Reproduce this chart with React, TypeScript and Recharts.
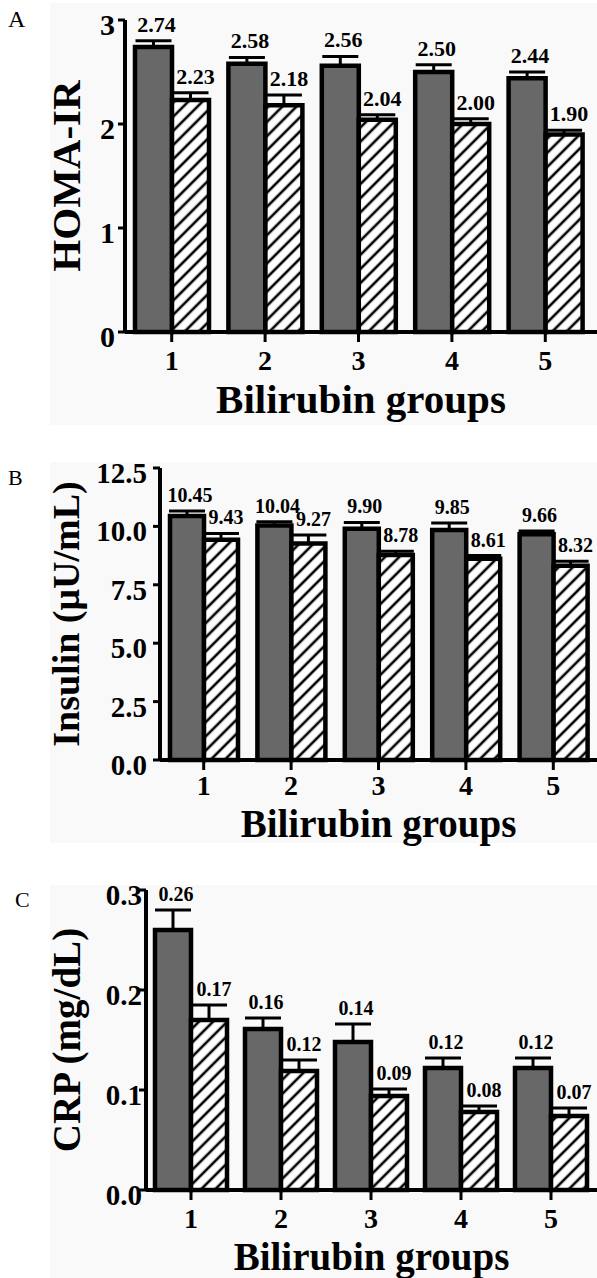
import React from 'react';
import { BarChart, Bar, XAxis, YAxis, ErrorBar, LabelList, Label } from 'recharts';

const SERIF = '"Liberation Serif", "Times New Roman", serif';

const groups = ['1', '2', '3', '4', '5'];

// A: HOMA-IR
const homaHigh = [2.74, 2.58, 2.56, 2.5, 2.44];
const homaHighErr = [0.06, 0.06, 0.09, 0.07, 0.06];
const homaHighLabels = ['2.74', '2.58', '2.56', '2.50', '2.44'];
const homaLow = [2.23, 2.18, 2.04, 2.0, 1.9];
const homaLowErr = [0.07, 0.1, 0.05, 0.05, 0.04];
const homaLowLabels = ['2.23', '2.18', '2.04', '2.00', '1.90'];
const homaTicks = [0, 1, 2, 3];

// B: Insulin
const insHigh = [10.45, 10.04, 9.9, 9.85, 9.66];
const insHighErr = [0.21, 0.16, 0.27, 0.3, 0.14];
const insHighLabels = ['10.45', '10.04', '9.90', '9.85', '9.66'];
const insLow = [9.43, 9.27, 8.78, 8.61, 8.32];
const insLowErr = [0.27, 0.36, 0.16, 0.14, 0.19];
const insLowLabels = ['9.43', '9.27', '8.78', '8.61', '8.32'];
const insTicks = [0, 2.5, 5, 7.5, 10, 12.5];

// C: CRP
const crpHigh = [0.26, 0.161, 0.148, 0.122, 0.122];
const crpHighErr = [0.02, 0.011, 0.018, 0.01, 0.01];
const crpHighLabels = ['0.26', '0.16', '0.14', '0.12', '0.12'];
const crpLow = [0.17, 0.119, 0.094, 0.078, 0.074];
const crpLowErr = [0.015, 0.011, 0.007, 0.006, 0.008];
const crpLowLabels = ['0.17', '0.12', '0.09', '0.08', '0.07'];
const crpTicks = [0, 0.1, 0.2, 0.3];

const makeLabel = (labels: string[], errs: number[], size: number, dx: number) => (props: any) => {
  const x = Number(props.x);
  const y = Number(props.y);
  const w = Number(props.width);
  const h = Number(props.height);
  const v = Number(props.value);
  const i = props.index;
  const pxPer = v ? h / v : 0;
  const top = y - errs[i] * pxPer;
  return (
    <text x={x + w / 2 + dx} y={top - 9} textAnchor="middle" fontSize={size} fontWeight="bold" fontFamily={SERIF} fill="#000">
      {labels[i]}
    </text>
  );
};

const Panel = ({ cfg }: { cfg: any }) => {
  const data = groups.map((g, i) => ({
    group: g,
    high: cfg.high[i],
    highErr: [0, cfg.highErr[i]],
    low: cfg.low[i],
    lowErr: [0, cfg.lowErr[i]],
  }));
  const hatchId = `hatch-${cfg.id}`;

  const xTick = (p: any) => (
    <text x={p.x} y={p.y} dy={cfg.xTickDy} textAnchor="middle" fontSize={28} fontWeight="bold" fontFamily={SERIF} fill="#000">
      {p.payload.value}
    </text>
  );
  const yTick = (p: any) => (
    <text x={p.x} y={p.y} dx={-cfg.yTickGap} dy={15} textAnchor="end" fontSize={cfg.yTickSize} fontWeight="bold" fontFamily={SERIF} fill="#000">
      {cfg.fmt(p.payload.value)}
    </text>
  );
  const xTitle = (p: any) => {
    const vb = p.viewBox || {};
    return (
      <text x={vb.x + vb.width / 2} y={vb.y + cfg.xTitleDy} textAnchor="middle" fontSize={cfg.xTitleSize} fontWeight="bold" fontFamily={SERIF} fill="#000">
        Bilirubin groups
      </text>
    );
  };
  const yTitle = (p: any) => {
    const vb = p.viewBox || {};
    const cy = vb.y + vb.height / 2;
    const cx = 66;
    return (
      <text x={cx} y={cy} transform={`rotate(-90 ${cx} ${cy})`} textAnchor="middle" dominantBaseline="central" fontSize={cfg.yTitleSize} fontWeight="bold" fontFamily={SERIF} fill="#000">
        {cfg.yTitle}
      </text>
    );
  };

  return (
    <div style={{ position: 'absolute', left: 0, top: cfg.top, width: 597, height: cfg.height }}>
      <div style={{ position: 'absolute', left: 50, right: 0, top: cfg.bgTop, bottom: cfg.bgBottom, background: '#f9f9f9' }} />
      <BarChart
        width={597}
        height={cfg.height}
        data={data}
        margin={{ top: cfg.marginTop, right: 0, bottom: 0, left: 0 }}
        barGap={0}
        barSize={cfg.barSize}
      >
        <defs>
          <pattern id={hatchId} patternUnits="userSpaceOnUse" width="10" height="10" patternTransform="rotate(45)">
            <rect width="10" height="10" fill="#fff" />
            <line x1="5" y1="0" x2="5" y2="10" stroke="#000" strokeWidth="2.6" />
          </pattern>
        </defs>
        <XAxis
          dataKey="group"
          height={cfg.xHeight}
          interval={0}
          padding={{ left: 0, right: cfg.padRight }}
          axisLine={{ stroke: '#000', strokeWidth: 4 }}
          tickLine={{ stroke: '#000', strokeWidth: 3 }}
          tickSize={10}
          tickMargin={0}
          tick={xTick}
        >
          <Label content={xTitle} />
        </XAxis>
        <YAxis
          width={cfg.yWidth}
          domain={[0, cfg.ticks[cfg.ticks.length - 1]]}
          ticks={cfg.ticks}
          interval={0}
          axisLine={{ stroke: '#000', strokeWidth: 4 }}
          tickLine={{ stroke: '#000', strokeWidth: 3 }}
          tickSize={7}
          tickMargin={0}
          tick={yTick}
        >
          <Label content={yTitle} />
        </YAxis>
        <Bar dataKey="high" fill="#686868" stroke="#000" strokeWidth={4.5} isAnimationActive={false}>
          <ErrorBar dataKey="highErr" direction="y" width={18} stroke="#000" strokeWidth={3} />
          <LabelList dataKey="high" content={makeLabel(cfg.highLabels, cfg.highErr, cfg.valSize, 3)} />
        </Bar>
        <Bar dataKey="low" fill={`url(#${hatchId})`} stroke="#000" strokeWidth={4.5} isAnimationActive={false}>
          <ErrorBar dataKey="lowErr" direction="y" width={18} stroke="#000" strokeWidth={3} />
          <LabelList dataKey="low" content={makeLabel(cfg.lowLabels, cfg.lowErr, cfg.valSize, 5)} />
        </Bar>
      </BarChart>
    </div>
  );
};

const panelA = {
  id: 'a', top: 0, height: 425, bgTop: 3, bgBottom: 0, marginTop: 20, xHeight: 93, yWidth: 125, padRight: 5,
  barSize: 37, ticks: homaTicks, fmt: (v: number) => String(v), yTickSize: 30, yTickGap: 3,
  xTickDy: 28, xTitleDy: 81, xTitleSize: 41, yTitle: 'HOMA-IR', yTitleSize: 41, valSize: 22,
  high: homaHigh, highErr: homaHighErr, highLabels: homaHighLabels,
  low: homaLow, lowErr: homaLowErr, lowLabels: homaLowLabels,
};

const panelB = {
  id: 'b', top: 440, height: 420, bgTop: 22, bgBottom: 17, marginTop: 28, xHeight: 100, yWidth: 160, padRight: 0,
  barSize: 34, ticks: insTicks, fmt: (v: number) => v.toFixed(1), yTickSize: 29, yTickGap: 6,
  xTickDy: 25, xTitleDy: 77, xTitleSize: 39, yTitle: 'Insulin (μU/mL)', yTitleSize: 38, valSize: 20,
  high: insHigh, highErr: insHighErr, highLabels: insHighLabels,
  low: insLow, lowErr: insLowErr, lowLabels: insLowLabels,
};

const panelC = {
  id: 'c', top: 860, height: 418, bgTop: 25, bgBottom: 0, marginTop: 30, xHeight: 88, yWidth: 146, padRight: 1,
  barSize: 36, ticks: crpTicks, fmt: (v: number) => v.toFixed(1), yTickSize: 29, yTickGap: -3,
  xTickDy: 28, xTitleDy: 80, xTitleSize: 39, yTitle: 'CRP (mg/dL)', yTitleSize: 39, valSize: 20,
  high: crpHigh, highErr: crpHighErr, highLabels: crpHighLabels,
  low: crpLow, lowErr: crpLowErr, lowLabels: crpLowLabels,
};

export default function App() {
  return (
    <div style={{ position: 'absolute', left: 0, top: 0, width: 597, height: 1278, background: '#fff', overflow: 'hidden' }}>
      <Panel cfg={panelA} />
      <Panel cfg={panelB} />
      <Panel cfg={panelC} />
      <svg width={597} height={1278} style={{ position: 'absolute', left: 0, top: 0, pointerEvents: 'none' }}>
        <text x={8} y={27} fontSize={24} fontFamily={SERIF} fill="#000">A</text>
        <text x={8} y={485} fontSize={22} fontFamily={SERIF} fill="#000">B</text>
        <text x={15} y={907} fontSize={22} fontFamily={SERIF} fill="#000">C</text>
      </svg>
    </div>
  );
}
